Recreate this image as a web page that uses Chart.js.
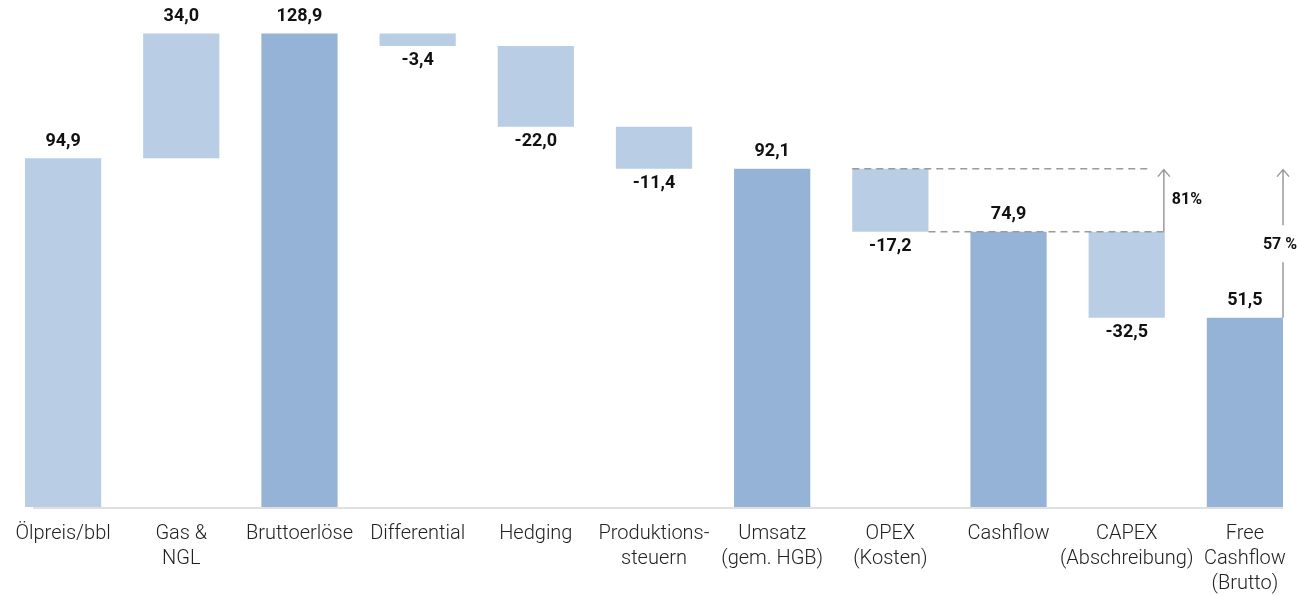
<!DOCTYPE html>
<html lang="de">
<head>
    <meta charset="UTF-8">
    <meta name="viewport" content="width=device-width, initial-scale=1.0">
    <title>Wasserfall</title>
    <style>
      body { margin: 0; background: #fff; overflow: hidden; }
      .chartbox { position: relative; width: 1304px; height: 595px; }
    </style>
</head>
<body>
    <div class="chartbox">
      <canvas id="waterfall"></canvas>
    </div>

    <script src="https://cdn.jsdelivr.net/npm/chart.js"></script>

    <script>
      // data
      var categories = [
        'Ölpreis/bbl', ['Gas &', 'NGL'], 'Bruttoerlöse', 'Differential', 'Hedging',
        ['Produktions-', 'steuern'], ['Umsatz', '(gem. HGB)'], ['OPEX', '(Kosten)'],
        'Cashflow', ['CAPEX', '(Abschreibung)'], ['Free', 'Cashflow', '(Brutto)']
      ];
      var values = [94.9, 34.0, 128.9, -3.4, -22.0, -11.4, 92.1, -17.2, 74.9, -32.5, 51.5];
      var kinds = ['base', 'delta', 'total', 'delta', 'delta', 'delta', 'total', 'delta', 'total', 'delta', 'total'];
      var ratioLabels = ['81%', '57 %'];

      var lightBlue = '#b9cde5';
      var darkBlue = '#95b3d7';

      // floating ranges for the waterfall
      var ranges = [];
      var level = 0;
      for (var i = 0; i < values.length; i++) {
        if (kinds[i] != 'delta') {
          ranges.push([0, values[i]]);
          level = values[i];
        } else {
          var start = level;
          var end = (kinds[i + 1] == 'total') ? values[i + 1] : level + values[i];
          ranges.push([start, end]);
          level = end;
        }
      }
      var colors = kinds.map(function (k) { return k == 'total' ? darkBlue : lightBlue; });

      function fmt(v) {
        return v.toFixed(1).replace('.', ',');
      }

      var waterfallPlugin = {
        id: 'waterfallExtras',
        beforeDatasetsDraw: function (chart) {
          // baseline, sits behind the bars
          var ctx = chart.ctx;
          var bars = chart.getDatasetMeta(0).data;
          var first = bars[0], last = bars[bars.length - 1];
          var y0 = chart.scales.y.getPixelForValue(0);
          ctx.save();
          ctx.strokeStyle = '#d4d4d4';
          ctx.lineWidth = 1.5;
          ctx.beginPath();
          ctx.moveTo(first.x - first.width / 2 + 8, y0 + 1);
          ctx.lineTo(last.x + last.width / 2, y0 + 1);
          ctx.stroke();
          ctx.restore();
        },
        afterDatasetsDraw: function (chart) {
          var ctx = chart.ctx;
          var y = chart.scales.y;
          var bars = chart.getDatasetMeta(0).data;

          ctx.save();

          // value labels
          ctx.fillStyle = '#111';
          ctx.font = 'bold 18px Roboto';
          ctx.textAlign = 'center';
          for (var i = 0; i < bars.length; i++) {
            var b = bars[i];
            var top = Math.min(b.y, b.base);
            var bottom = Math.max(b.y, b.base);
            if (values[i] < 0) {
              ctx.textBaseline = 'top';
              ctx.fillText(fmt(values[i]), b.x, bottom + 6);
            } else {
              ctx.textBaseline = 'bottom';
              ctx.fillText(fmt(values[i]), b.x, top - 8);
            }
          }

          // ratio annotations
          var opex = bars[7], capex = bars[9], free = bars[10];
          var yTop = y.getPixelForValue(values[6]);
          var yCash = y.getPixelForValue(values[8]);
          var yFree = y.getPixelForValue(values[10]);
          var x1 = capex.x + capex.width / 2 - 1;
          var x2 = free.x + free.width / 2;

          ctx.strokeStyle = '#9a9a9a';
          ctx.lineWidth = 1.5;
          ctx.setLineDash([7, 5]);
          ctx.beginPath();
          ctx.moveTo(opex.x - opex.width / 2, yTop);
          ctx.lineTo(x1 - 14, yTop);
          ctx.moveTo(opex.x + opex.width / 2, yCash);
          ctx.lineTo(x1, yCash);
          ctx.stroke();
          ctx.setLineDash([]);

          function arrow(x, yFrom, yTo) {
            ctx.beginPath();
            ctx.moveTo(x, yFrom);
            ctx.lineTo(x, yTo);
            ctx.moveTo(x - 6, yTo + 7);
            ctx.lineTo(x, yTo);
            ctx.lineTo(x + 6, yTo + 7);
            ctx.stroke();
          }
          arrow(x1, yCash, yTop + 1);

          // second arrow with a gap for its label
          var midY = (yTop + yFree) / 2 + 2;
          ctx.beginPath();
          ctx.moveTo(x2, yFree);
          ctx.lineTo(x2, midY + 17);
          ctx.stroke();
          arrow(x2, midY - 20, yTop + 1);

          ctx.fillStyle = '#111';
          ctx.font = 'bold 16px Roboto';
          ctx.textBaseline = 'middle';
          ctx.textAlign = 'left';
          ctx.fillText(ratioLabels[0], x1 + 8, (yTop + yCash) / 2);
          ctx.textAlign = 'center';
          ctx.fillText(ratioLabels[1], x2 - 3, midY);

          ctx.restore();
        }
      };

      var chartdata = {
        labels: categories,
        datasets: [
          {
            label: 'Wasserfall',
            data: ranges,
            backgroundColor: colors,
            borderWidth: 0,
            categoryPercentage: 1,
            barPercentage: 0.645
          }
        ]
      };

      var chartOptions = {
        responsive: true,
        maintainAspectRatio: false,
        animation: false,
        layout: {
          padding: { left: 4, right: 0, top: 0, bottom: -15 }
        },
        plugins: {
          legend: { display: false },
          tooltip: { enabled: false }
        },
        scales: {
          x: {
            grid: { display: false, drawTicks: false },
            border: { display: false },
            ticks: {
              autoSkip: false,
              maxRotation: 0,
              padding: 14,
              color: '#222',
              font: { family: 'Roboto', size: 20, weight: '300', lineHeight: 1.25 }
            }
          },
          y: {
            display: false,
            min: 0,
            max: 138
          }
        }
      };

      var ctx = document.getElementById('waterfall');
      var waterfallChart = new Chart(ctx, {
        type: 'bar',
        data: chartdata,
        options: chartOptions,
        plugins: [waterfallPlugin]
      });
    </script>
</body>
</html>
